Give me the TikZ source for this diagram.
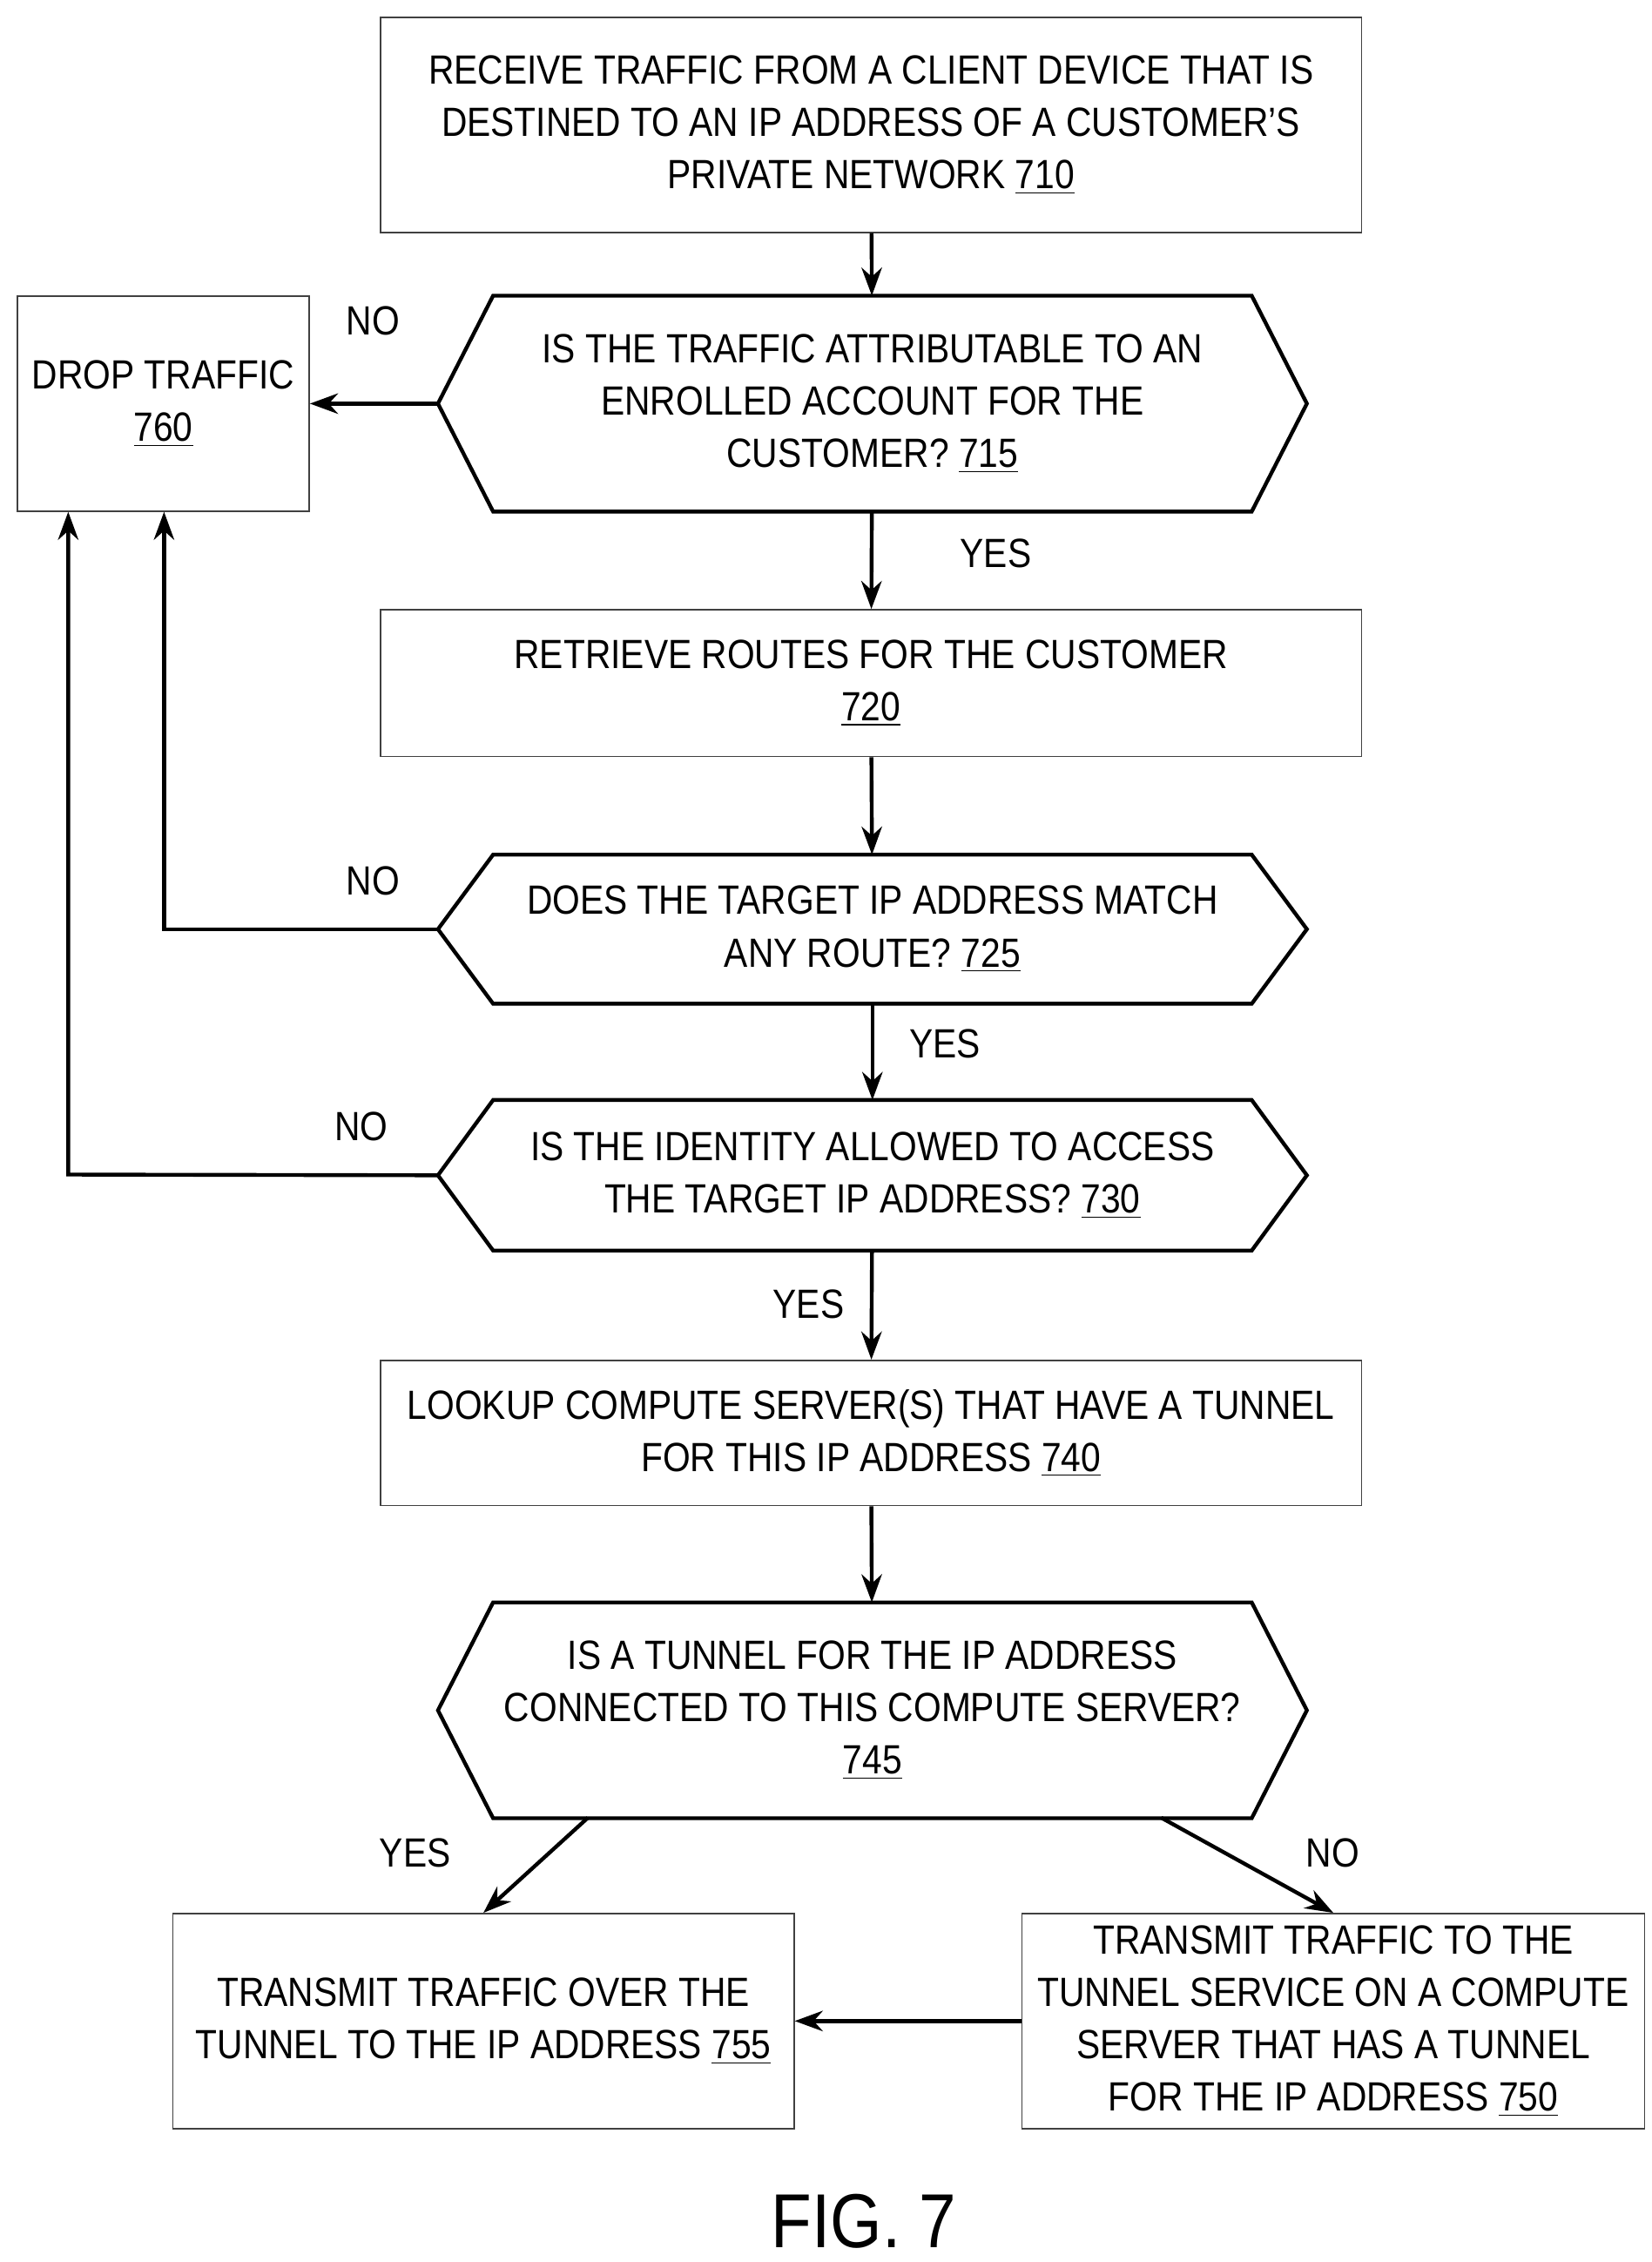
\documentclass[tikz,border=0pt]{standalone}
\usepackage{fontspec}
\setmainfont{Liberation Sans}[FakeStretch=0.87]
\usetikzlibrary{arrows.meta}
\begin{document}
\begin{tikzpicture}[x=0.02cm,y=-0.02cm,
  txt/.style={align=center,font=\fontsize{16}{20.5}\selectfont,inner sep=0pt},
  box/.style={txt,draw=black!75,line width=0.6pt,minimum width=#1},
  hexn/.style={txt,minimum width=11.96cm},
  con/.style={line width=1.5pt,-{Stealth[length=11pt,width=8pt]}},
  lbl/.style={font=\fontsize{16}{20}\selectfont,inner sep=0pt}]
\newcommand\hexa[1]{\draw[line width=1.5pt] ([xshift=0.76cm]#1.north west) -- ([xshift=-0.76cm]#1.north east) -- (#1.east) -- ([xshift=-0.76cm]#1.south east) -- ([xshift=0.76cm]#1.south west) -- (#1.west) -- cycle;}
\useasboundingbox (0,0) rectangle (1138,1558);
\node[box=13.52cm,minimum height=2.96cm] (b710) at (600,86) {RECEIVE TRAFFIC FROM A CLIENT DEVICE THAT IS\\DESTINED TO AN IP ADDRESS OF A CUSTOMER'S\\PRIVATE NETWORK \underline{710}};
\node[hexn,minimum height=2.96cm] (h715) at (601,278) {IS THE TRAFFIC ATTRIBUTABLE TO AN\\ENROLLED ACCOUNT FOR THE\\CUSTOMER? \underline{715}};
\hexa{h715}
\node[box=4.02cm,minimum height=2.96cm] (b760) at (112.5,278) {DROP TRAFFIC\\\underline{760}};
\node[box=13.52cm,minimum height=2.02cm] (b720) at (600,470.5) {RETRIEVE ROUTES FOR THE CUSTOMER\\\underline{720}};
\node[hexn,minimum height=2.04cm] (h725) at (601,640) {DOES THE TARGET IP ADDRESS MATCH\\ANY ROUTE? \underline{725}};
\hexa{h725}
\node[hexn,minimum height=2.06cm] (h730) at (601,809.5) {IS THE IDENTITY ALLOWED TO ACCESS\\THE TARGET IP ADDRESS? \underline{730}};
\hexa{h730}
\node[box=13.52cm,minimum height=2.0cm] (b740) at (600,987) {LOOKUP COMPUTE SERVER(S) THAT HAVE A TUNNEL\\FOR THIS IP ADDRESS \underline{740}};
\node[hexn,minimum height=2.96cm] (h745) at (601,1178) {IS A TUNNEL FOR THE IP ADDRESS\\CONNECTED TO THIS COMPUTE SERVER?\\\underline{745}};
\hexa{h745}
\node[box=8.56cm,minimum height=2.96cm] (b755) at (333,1392) {TRANSMIT TRAFFIC OVER THE\\TUNNEL TO THE IP ADDRESS \underline{755}};
\node[box=8.58cm,minimum height=2.96cm] (b750) at (918.5,1392) {TRANSMIT TRAFFIC TO THE\\TUNNEL SERVICE ON A COMPUTE\\SERVER THAT HAS A TUNNEL\\FOR THE IP ADDRESS \underline{750}};
\node[font=\fontsize{30}{34}\selectfont] (fig) at (595,1530) {FIG. 7};
\coordinate (c1) at (113,640);
\coordinate (c2) at (47,809);
\coordinate (s1) at (405,1252);
\coordinate (s2) at (800,1252);
\draw[con] (b710) -- (h715);
\draw[con] (h715.west) -- (b760.east);
\draw[con] (h715) -- (b720);
\draw[con] (b720) -- (h725);
\draw[con] (h725.west) -- (c1) -- (c1 |- b760.south);
\draw[con] (h725) -- (h730);
\draw[con] (h730.west) -- (c2) -- (c2 |- b760.south);
\draw[con] (h730) -- (b740);
\draw[con] (b740) -- (h745);
\draw[con] (s1) -- (b755.north);
\draw[con] (s2) -- (b750.north);
\draw[con] (b750.west) -- (b755.east);
\node[lbl] (l1) at (257,221) {NO};
\node[lbl] (l2) at (686,381) {YES};
\node[lbl] (l3) at (257,607) {NO};
\node[lbl] (l4) at (651,719) {YES};
\node[lbl] (l5) at (249,776) {NO};
\node[lbl] (l6) at (557,898) {YES};
\node[lbl] (l7) at (286,1276) {YES};
\node[lbl] (l8) at (918,1276) {NO};
\end{tikzpicture}
\end{document}
